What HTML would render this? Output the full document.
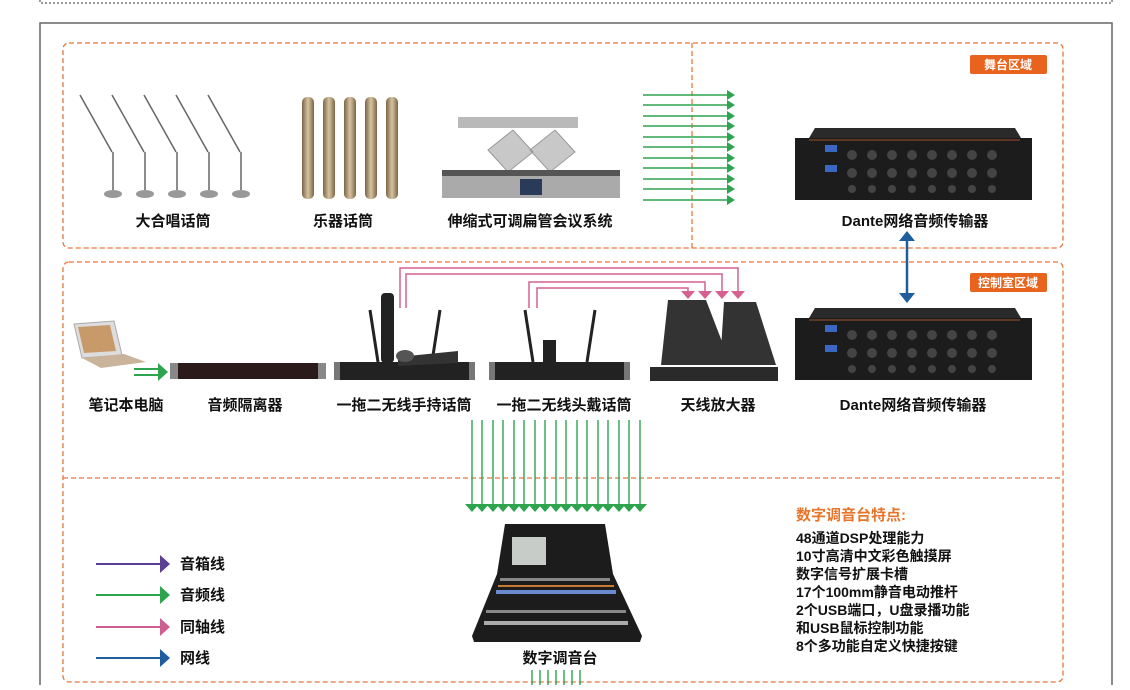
<!DOCTYPE html>
<html><head><meta charset="utf-8"><style>
body{margin:0;background:#fff;width:1130px;height:685px;overflow:hidden;font-family:"Liberation Sans","Noto Sans CJK SC",sans-serif}
svg text{font-family:"Liberation Sans","Noto Sans CJK SC",sans-serif;font-weight:bold}
</style></head><body>
<svg width="1130" height="685" viewBox="0 0 1130 685" xmlns="http://www.w3.org/2000/svg">
<defs>
<marker id="g" markerWidth="8" markerHeight="10" refX="1" refY="5" orient="auto" markerUnits="userSpaceOnUse"><path d="M0,0L8,5L0,10z" fill="#2ea44f"/></marker>
<linearGradient id="gold" x1="0" x2="1"><stop offset="0" stop-color="#7a6548"/><stop offset=".5" stop-color="#d8c3a0"/><stop offset="1" stop-color="#7a6548"/></linearGradient>
</defs>
<path d="M40,0V3H1112V0" fill="none" stroke="#333" stroke-width="1" stroke-dasharray="2,2"/>
<path d="M40,685V23H1112V685" fill="none" stroke="#666" stroke-width="1.5"/>
<g fill="none" stroke="#e8763a" stroke-width="1.3" stroke-dasharray="5,3">
<rect x="63" y="43" width="1000" height="205" rx="6"/>
<line x1="692" y1="43" x2="692" y2="248"/>
<rect x="63" y="262" width="1000" height="420" rx="6"/>
<line x1="63" y1="478" x2="1063" y2="478"/>
</g>
<rect x="970" y="55" width="77" height="19" rx="2" fill="#e8641e"/>
<text x="1008" y="69" fill="#fff" font-size="12" text-anchor="middle">舞台区域</text>
<rect x="970" y="273" width="77" height="19" rx="2" fill="#e8641e"/>
<text x="1008" y="287" fill="#fff" font-size="12" text-anchor="middle">控制室区域</text>

<g stroke="#666" stroke-width="1.5" fill="#999">
<g id="cm"><line x1="80" y1="95" x2="112" y2="152" fill="none"/><line x1="113" y1="152" x2="113" y2="190"/><ellipse cx="113" cy="194" rx="9" ry="4" stroke="none" fill="#999"/></g>
<use href="#cm" x="32"/><use href="#cm" x="64"/><use href="#cm" x="96"/><use href="#cm" x="128"/>
</g>
<g fill="url(#gold)">
<rect x="302" y="97" width="12" height="102" rx="5"/><rect x="323" y="97" width="12" height="102" rx="5"/><rect x="344" y="97" width="12" height="102" rx="5"/><rect x="365" y="97" width="12" height="102" rx="5"/><rect x="386" y="97" width="12" height="102" rx="5"/>
</g>
<rect x="458" y="117" width="120" height="11" fill="#b9b9b9"/>
<path d="M488,150l25,-20 20,22 -25,20z M530,150l25,-20 20,22 -25,20z" fill="#c8c8c8" stroke="#999"/>
<rect x="442" y="176" width="178" height="22" fill="#aaa"/>
<rect x="520" y="179" width="22" height="16" fill="#2a3b5a"/>
<rect x="442" y="170" width="178" height="6" fill="#555"/>
<g font-size="15" fill="#111" text-anchor="middle">
<text x="173" y="226">大合唱话筒</text><text x="343" y="226">乐器话筒</text><text x="530" y="226">伸缩式可调扁管会议系统</text>
<text x="915" y="226">Dante网络音频传输器</text>
<text x="126" y="410">笔记本电脑</text><text x="245" y="410">音频隔离器</text><text x="404" y="410">一拖二无线手持话筒</text><text x="564" y="410">一拖二无线头戴话筒</text><text x="718" y="410">天线放大器</text><text x="913" y="410">Dante网络音频传输器</text>
<text x="560" y="663">数字调音台</text>
</g>
<g stroke="#2ea44f" stroke-width="1.6">
<line x1="643" y1="95" x2="728" y2="95" marker-end="url(#g)"/><line x1="643" y1="105" x2="728" y2="105" marker-end="url(#g)"/><line x1="643" y1="116" x2="728" y2="116" marker-end="url(#g)"/><line x1="643" y1="126" x2="728" y2="126" marker-end="url(#g)"/><line x1="643" y1="137" x2="728" y2="137" marker-end="url(#g)"/><line x1="643" y1="147" x2="728" y2="147" marker-end="url(#g)"/><line x1="643" y1="158" x2="728" y2="158" marker-end="url(#g)"/><line x1="643" y1="168" x2="728" y2="168" marker-end="url(#g)"/><line x1="643" y1="179" x2="728" y2="179" marker-end="url(#g)"/><line x1="643" y1="189" x2="728" y2="189" marker-end="url(#g)"/><line x1="643" y1="200" x2="728" y2="200" marker-end="url(#g)"/>
</g>
<g id="dd">
<path d="M815,128H1015l6,10H809z" fill="#2a2a2a"/>
<rect x="795" y="138" width="237" height="62" fill="#1c1c1c"/>
<rect x="825" y="145" width="12" height="7" fill="#3a66c4"/><rect x="825" y="165" width="12" height="7" fill="#3a66c4"/>
<g fill="#444"><circle cx="852" cy="155" r="5"/><circle cx="872" cy="155" r="5"/><circle cx="892" cy="155" r="5"/><circle cx="912" cy="155" r="5"/><circle cx="932" cy="155" r="5"/><circle cx="952" cy="155" r="5"/><circle cx="972" cy="155" r="5"/><circle cx="992" cy="155" r="5"/>
<circle cx="852" cy="173" r="5"/><circle cx="872" cy="173" r="5"/><circle cx="892" cy="173" r="5"/><circle cx="912" cy="173" r="5"/><circle cx="932" cy="173" r="5"/><circle cx="952" cy="173" r="5"/><circle cx="972" cy="173" r="5"/><circle cx="992" cy="173" r="5"/>
<circle cx="852" cy="189" r="4"/><circle cx="872" cy="189" r="4"/><circle cx="892" cy="189" r="4"/><circle cx="912" cy="189" r="4"/><circle cx="932" cy="189" r="4"/><circle cx="952" cy="189" r="4"/><circle cx="972" cy="189" r="4"/><circle cx="992" cy="189" r="4"/></g>
<line x1="809" y1="140" x2="1020" y2="140" stroke="#a0522d"/>
</g>
<use href="#dd" y="180"/>
<line x1="907" y1="240" x2="907" y2="294" stroke="#1f5e9e" stroke-width="2.5"/>
<path d="M899,241L907,231L915,241z M899,293L907,303L915,293z" fill="#1f5e9e"/>
<path d="M74,324l40,-3 8,34 -40,3z" fill="#ddd" stroke="#aaa"/>
<path d="M78,327l32,-2 6,26 -32,2z" fill="#c89a6a"/>
<path d="M82,358l42,-4 22,8 -45,6z" fill="#c9b39a"/>
<g stroke="#2ea44f" stroke-width="2"><line x1="134" y1="369" x2="158" y2="369"/><line x1="134" y1="375" x2="158" y2="375"/></g>
<path d="M158,363L168,372L158,381z" fill="#2ea44f"/>
<rect x="170" y="363" width="156" height="16" fill="#2a1a1a"/><rect x="170" y="363" width="8" height="16" fill="#888"/><rect x="318" y="363" width="8" height="16" fill="#888"/>
<g id="rx"><rect x="334" y="362" width="141" height="18" fill="#222"/><rect x="334" y="362" width="6" height="18" fill="#777"/><rect x="469" y="362" width="6" height="18" fill="#777"/><line x1="370" y1="310" x2="378" y2="362" stroke="#222" stroke-width="3"/><line x1="440" y1="310" x2="432" y2="362" stroke="#222" stroke-width="3"/></g>
<rect x="381" y="293" width="13" height="70" rx="4" fill="#222"/>
<path d="M398,357l60,-6 0,12 -60,3z" fill="#333"/><ellipse cx="405" cy="356" rx="9" ry="6" fill="#555"/>
<use href="#rx" x="155"/>
<rect x="543" y="340" width="13" height="22" fill="#222"/>
<rect x="650" y="367" width="128" height="14" fill="#2a2a2a"/>
<path d="M668,300h38l25,65h-70z M724,302h32l20,63h-56z" fill="#333"/>
<g fill="none" stroke="#d6608f" stroke-width="1.5">
<path d="M400,308V268H738V292"/><path d="M406,308V274H722V292"/><path d="M529,308V282H705V292"/><path d="M537,308V288H688V292"/>
</g>
<path d="M681,291h14l-7,8z M698,291h14l-7,8z M715,291h14l-7,8z M731,291h14l-7,8z" fill="#d6608f"/>
<g stroke="#2ea44f" stroke-width="1.4">
<path d="M472,420V505M482,420V505M493,420V505M503,420V505M514,420V505M524,420V505M535,420V505M545,420V505M556,420V505M566,420V505M577,420V505M587,420V505M598,420V505M608,420V505M619,420V505M629,420V505M640,420V505"/>
<path d="M532,670V685M540,670V685M548,670V685M556,670V685M564,670V685M572,670V685M580,670V685"/>
</g>
<path fill="#2ea44f" d="M465,504h14l-7,8zM475,504h14l-7,8zM486,504h14l-7,8zM496,504h14l-7,8zM507,504h14l-7,8zM517,504h14l-7,8zM528,504h14l-7,8zM538,504h14l-7,8zM549,504h14l-7,8zM559,504h14l-7,8zM570,504h14l-7,8zM580,504h14l-7,8zM591,504h14l-7,8zM601,504h14l-7,8zM612,504h14l-7,8zM622,504h14l-7,8zM633,504h14l-7,8z"/>
<path d="M505,524h100l8,50 29,62 -2,6H474l-2,-6 25,-62z" fill="#1c1c1c"/>
<rect x="512" y="537" width="34" height="28" fill="#c8ccc8"/>
<g fill="#888"><rect x="500" y="578" width="110" height="3"/><rect x="498" y="585" width="116" height="2" fill="#c87a30"/><rect x="496" y="590" width="120" height="4" fill="#6a8ad0"/><rect x="486" y="610" width="140" height="3"/><rect x="484" y="621" width="144" height="4" fill="#aaa"/></g>
<g stroke-width="2"><line x1="96" y1="564" x2="160" y2="564" stroke="#5b3f93"/><line x1="96" y1="595" x2="160" y2="595" stroke="#2ea44f"/><line x1="96" y1="627" x2="160" y2="627" stroke="#cc5f8f"/><line x1="96" y1="658" x2="160" y2="658" stroke="#1f5e9e"/></g>
<path d="M160,555l10,9-10,9z" fill="#5b3f93"/><path d="M160,586l10,9-10,9z" fill="#2ea44f"/><path d="M160,618l10,9-10,9z" fill="#cc5f8f"/><path d="M160,649l10,9-10,9z" fill="#1f5e9e"/>
<g font-size="15" fill="#111"><text x="180" y="569">音箱线</text><text x="180" y="600">音频线</text><text x="180" y="632">同轴线</text><text x="180" y="663">网线</text></g>
<text x="796" y="520" font-size="15" fill="#e8742a">数字调音台特点:</text>
<g font-size="14" fill="#111">
<text x="796" y="543">48通道DSP处理能力</text><text x="796" y="561">10寸高清中文彩色触摸屏</text><text x="796" y="579">数字信号扩展卡槽</text><text x="796" y="597">17个100mm静音电动推杆</text><text x="796" y="615">2个USB端口，U盘录播功能</text><text x="796" y="633">和USB鼠标控制功能</text><text x="796" y="651">8个多功能自定义快捷按键</text>
</g>
</svg>
</body></html>
